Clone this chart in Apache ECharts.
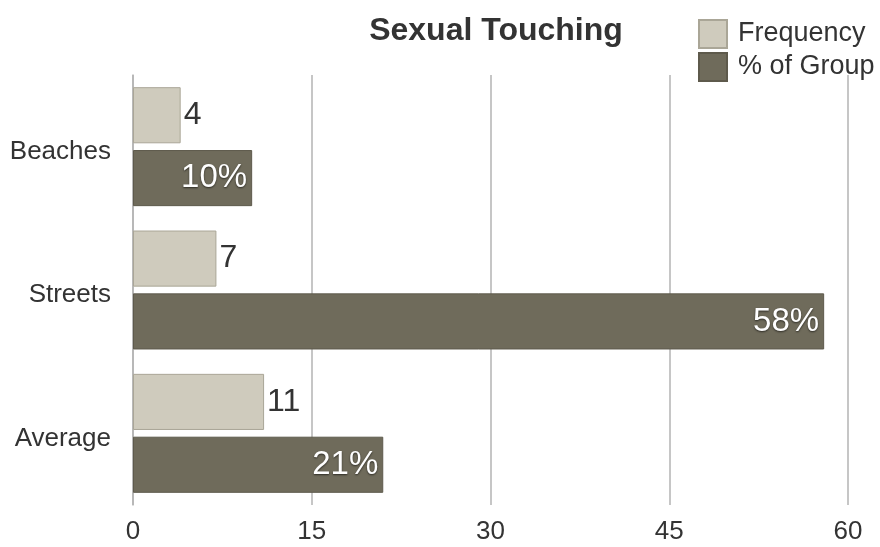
<!DOCTYPE html>
<html>
<head>
<meta charset="utf-8">
<script src="https://cdn.jsdelivr.net/npm/echarts@6/dist/echarts.min.js"></script>
<style>
  html, body { margin: 0; padding: 0; background: #fff; }
  #chart { width: 880px; height: 547px; }
</style>
</head>
<body>
<div id="chart"></div>
<script>
// 数据
const categories = ["Beaches", "Streets", "Average"];
const frequency = [4, 7, 11];
const pctOfGroup = [10, 58, 21];
const xTicks = [0, 15, 30, 45, 60];

const font = "'Liberation Sans', Arial, Helvetica, sans-serif";

const chart = echarts.init(document.getElementById("chart"));
chart.setOption({
  animation: false,
  title: {
    text: "Sexual Touching",
    left: 491,
    textAlign: "center",
    top: 10,
    textStyle: { fontFamily: font, fontSize: 32, fontWeight: "bold", color: "#333" },
  },
  legend: {
    orient: "vertical",
    left: 693,
    top: 14,
    itemWidth: 28,
    itemHeight: 28,
    itemGap: 3,
    icon: "rect",
    textStyle: { fontFamily: font, fontSize: 27, color: "#333", padding: [0, 0, 0, 6] },
    data: ["Frequency", "% of Group"],
  },
  grid: { left: 133, right: 32, top: 75, bottom: 42 },
  xAxis: {
    type: "value",
    min: xTicks[0],
    max: xTicks[xTicks.length - 1],
    interval: 15,
    axisLine: { show: false },
    axisTick: { show: false },
    splitLine: { show: true, lineStyle: { color: "#b3b3b3", width: 1.5 } },
    axisLabel: { fontFamily: font, fontSize: 26, color: "#333", margin: 14 },
  },
  yAxis: {
    type: "category",
    data: categories,
    inverse: true,
    axisLine: { show: true, lineStyle: { color: "#b3b3b3", width: 1.5 } },
    axisTick: { show: false },
    axisLabel: {
      margin: 22,
      formatter: (v) => "{a|" + v + "}",
      rich: {
        a: {
          fontFamily: font,
          fontSize: 26,
          color: "#333",
          padding: [10, 0, 0, 0],
        },
      },
    },
  },
  series: [
    {
      name: "Frequency",
      type: "bar",
      data: frequency,
      barGap: "12%",
      barCategoryGap: "17%",
      itemStyle: { color: "#cfcbbd", borderColor: "#aaa697", borderWidth: 1 },
      label: {
        show: true,
        position: "right",
        distance: 3,
        fontFamily: font,
        fontSize: 32,
        color: "#333",
      },
    },
    {
      name: "% of Group",
      type: "bar",
      data: pctOfGroup,
      itemStyle: { color: "#6f6b5b", borderColor: "#5e5a4c", borderWidth: 1 },
      label: {
        show: true,
        position: "insideRight",
        distance: 5,
        formatter: "{c}%",
        fontFamily: font,
        fontSize: 33,
        color: "#fff",
        textShadowColor: "rgba(0,0,0,0.6)",
        textShadowBlur: 2,
        textShadowOffsetY: 1,
      },
    },
  ],
});
</script>
</body>
</html>
